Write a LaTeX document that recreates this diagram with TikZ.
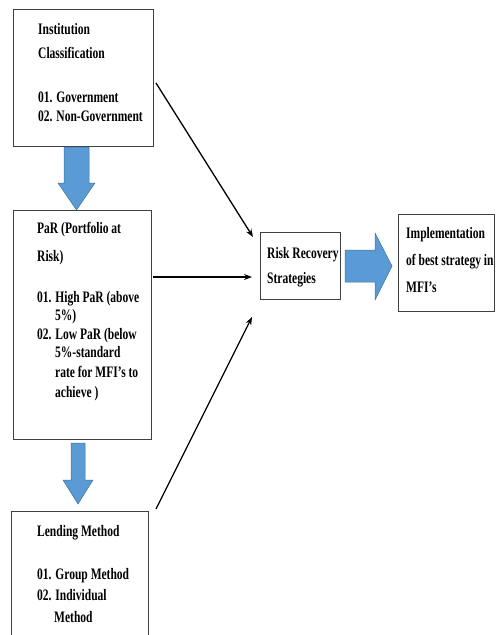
\documentclass[tikz,border=0pt]{standalone}
\usepackage{fontspec}
\setmainfont{Liberation Serif}[FakeStretch=0.72]
\usetikzlibrary{arrows.meta}
\definecolor{blkfill}{RGB}{91,155,213}
\definecolor{blkline}{RGB}{65,113,156}
\tikzset{
  box/.style={draw=black!75, line width=0.8pt, anchor=north west, inner sep=0pt, outer sep=0pt},
  txt/.style={anchor=base west, inner sep=0pt, font=\fontsize{16}{19}\selectfont\bfseries},
  conn/.style={draw=black, line width=1.3pt, -{Stealth[length=8pt,width=6pt]}},
  blk/.style={fill=blkfill, draw=blkline, line width=0.5pt}
}
\begin{document}
\begin{tikzpicture}[x=1pt,y=-1pt]
\useasboundingbox (0,0) rectangle (496,635);
\clip (0,0) rectangle (496,635);
% boxes
\node[box, minimum width=140pt, minimum height=137pt] (b1) at (13,9) {};
\node[box, minimum width=138pt, minimum height=229pt] (b2) at (13,210) {};
\node[box, minimum width=137pt, minimum height=140pt] (b3) at (11,511) {};
\node[box, minimum width=80pt, minimum height=67pt] (b4) at (260,232) {};
\node[box, minimum width=96pt, minimum height=97pt] (b5) at (398,214) {};
% texts
\node[txt] (t1a) at (38,34) {Institution};
\node[txt] (t1b) at (38,58) {Classification};
\node[txt] (t1c) at (38,102) {01. Government};
\node[txt] (t1d) at (38,121) {02. Non-Government};
\node[txt] (t2a) at (37,233) {PaR (Portfolio at};
\node[txt] (t2b) at (37,261) {Risk)};
\node[txt] (t2c) at (37,302) {01. High PaR (above};
\node[txt] (t2d) at (55,320) {5\%)};
\node[txt] (t2e) at (37,339) {02. Low PaR (below};
\node[txt] (t2f) at (55,357) {5\%-standard};
\node[txt] (t2g) at (55,377) {rate for MFI’s to};
\node[txt] (t2h) at (55,397) {achieve )};
\node[txt] (t3a) at (37,536) {Lending Method};
\node[txt] (t3b) at (37,579) {01. Group Method};
\node[txt] (t3c) at (37,600) {02. Individual};
\node[txt] (t3d) at (54,622) {Method};
\node[txt] (t4a) at (267,258) {Risk Recovery};
\node[txt] (t4b) at (267,283) {Strategies};
\node[txt] (t5a) at (406,238) {Implementation};
\node[txt] (t5b) at (406,265) {of best strategy in};
\node[txt] (t5c) at (406,292) {MFI’s};
% block arrows
\draw[blk] (64,147) -- (89,147) -- (89,183) -- (95,183) -- (76.5,210) -- (58,183) -- (64,183) -- cycle;
\draw[blk] (71,443) -- (85,443) -- (85,480) -- (93,480) -- (78,504) -- (63,480) -- (71,480) -- cycle;
\draw[blk] (345,250) -- (375,250) -- (375,233) -- (392,266) -- (375,300) -- (375,282) -- (345,282) -- cycle;
% connectors
\coordinate (s1) at (156,83);
\coordinate (e1) at (253,237);
\coordinate (s2) at (153,277);
\coordinate (e2) at (252,277);
\coordinate (s3) at (156,509);
\coordinate (e3) at (252,317);
\draw[conn] (s1) -- (e1);
\draw[conn] (s2) -- (e2);
\draw[conn] (s3) -- (e3);
\end{tikzpicture}
\end{document}
